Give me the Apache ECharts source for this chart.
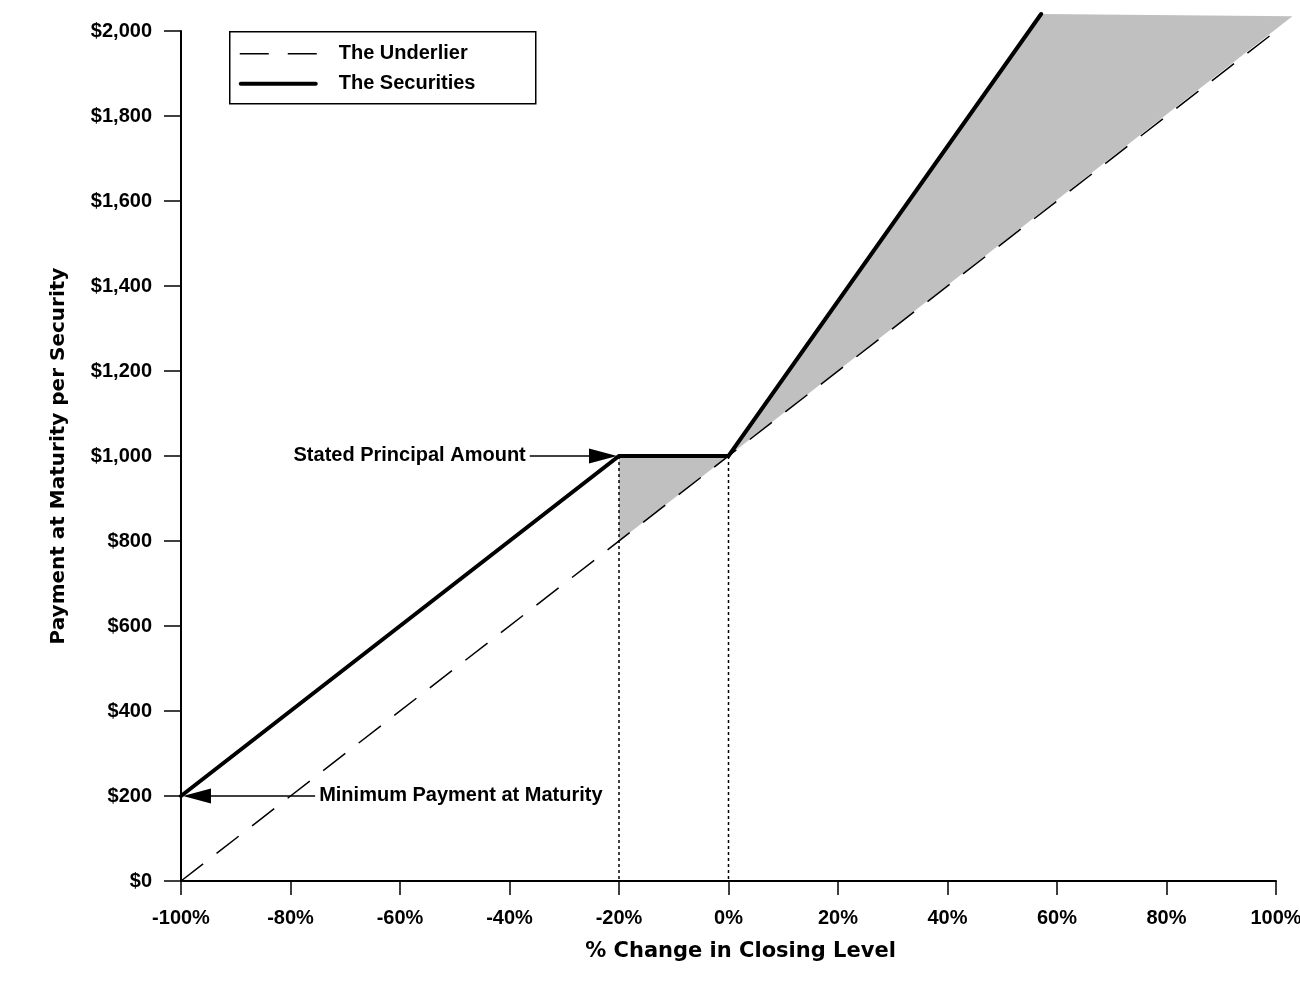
<!DOCTYPE html>
<html><head><meta charset="utf-8">
<script src="https://cdn.jsdelivr.net/npm/echarts@6/dist/echarts.min.js"></script>
<style>html,body{margin:0;padding:0;background:#fff}#c{width:1300px;height:983px}</style>
</head><body><div id="c"></div><script>
// ---- data ----
const xTicks = [-100, -80, -60, -40, -20, 0, 20, 40, 60, 80, 100];
const yTicks = [0, 200, 400, 600, 800, 1000, 1200, 1400, 1600, 1800, 2000];
const underlierX = [-100, 100];
const underlierY = [0, 2000];
const securitiesX = [-100, -20, 0, 57.1];
const securitiesY = [200, 1000, 1000, 2040];
const shadeLowX = [-20, 0, -20];
const shadeLowY = [1000, 1000, 800];
const shadeHighX = [0, 57.1, 103];
const shadeHighY = [1000, 2040, 2035];
const guideX = [-20, 0];
const guideTop = [1000, 1000];
const annLabels = ['Stated Principal Amount', 'Minimum Payment at Maturity'];
const annTipX = [-20, -100];
const annTipY = [1000, 200];
const annTailX = [-36.3, -75.5];
const legendLabels = ['The Underlier', 'The Securities'];

// ---- chart ----
const FONT = '"Liberation Sans", Arial, sans-serif';
const NAMEFONT = '"DejaVu Sans", Verdana, sans-serif';
const shades = [{x: shadeLowX, y: shadeLowY}, {x: shadeHighX, y: shadeHighY}];
const chart = echarts.init(document.getElementById('c'), null, {renderer: 'canvas'});
const txt = {fontFamily: FONT, fontWeight: 'bold', fontSize: 20, color: '#000'};

const legendGraphic = {
  type: 'group', left: 229, top: 31, z: 100,
  children: [
    {type: 'rect', shape: {x: 0, y: 0, width: 306, height: 72},
      style: {fill: '#fff', stroke: '#000', lineWidth: 1.5}},
    {type: 'line', shape: {x1: 10, y1: 22, x2: 87, y2: 22},
      style: {stroke: '#000', lineWidth: 1.5, lineDash: [29, 19]}},
    {type: 'line', shape: {x1: 11, y1: 52, x2: 86, y2: 52},
      style: {stroke: '#000', lineWidth: 4, lineCap: 'round'}},
    {type: 'text', x: 109, y: 22, style: {text: legendLabels[0], fill: '#000',
      font: 'bold 20px ' + FONT, verticalAlign: 'middle'}},
    {type: 'text', x: 109, y: 52, style: {text: legendLabels[1], fill: '#000',
      font: 'bold 20px ' + FONT, verticalAlign: 'middle'}}
  ]
};

chart.setOption({
  animation: false,
  backgroundColor: '#fff',
  grid: {left: 181, right: 24, top: 31, bottom: 102, containLabel: false, outerBoundsMode: 'none'},
  graphic: [legendGraphic],
  xAxis: {
    type: 'value', min: xTicks[0], max: xTicks[xTicks.length - 1], interval: 20,
    name: '% Change in Closing Level', nameLocation: 'middle', nameGap: 60,
    nameTextStyle: {fontFamily: NAMEFONT, fontWeight: 'bold', fontSize: 21, color: '#000', padding: [0, 0, 0, 24]},
    axisLine: {show: true, onZero: false, lineStyle: {color: '#000', width: 2}},
    axisTick: {show: true, length: 14, lineStyle: {color: '#000', width: 1.5}},
    axisLabel: Object.assign({}, txt, {margin: 27, formatter: v => v + '%'}),
    splitLine: {show: false}
  },
  yAxis: {
    type: 'value', min: yTicks[0], max: yTicks[yTicks.length - 1], interval: 200,
    name: 'Payment at Maturity per Security', nameLocation: 'middle', nameGap: 112,
    nameRotate: 90,
    nameTextStyle: {fontFamily: NAMEFONT, fontWeight: 'bold', fontSize: 20, color: '#000'},
    axisLine: {show: true, onZero: false, lineStyle: {color: '#000', width: 2}},
    axisTick: {show: true, length: 17, lineStyle: {color: '#000', width: 1.5}},
    axisLabel: Object.assign({}, txt, {margin: 29, formatter: v => '$' + v.toLocaleString('en-US')}),
    splitLine: {show: false}
  },
  series: [
    {
      type: 'custom', name: 'shade', z: 1, silent: true, clip: false,
      data: shades.map(s => [s.x[0], s.y[0]]),
      renderItem: (params, api) => {
        const s = shades[params.dataIndex];
        return {type: 'polygon', shape: {points: s.x.map((x, i) => api.coord([x, s.y[i]]))},
          style: {fill: '#c0c0c0'}};
      }
    },
    {
      type: 'custom', name: 'guides', z: 2, silent: true, clip: false,
      data: guideX.map((x, i) => [x, guideTop[i]]),
      renderItem: (params, api) => {
        const i = params.dataIndex;
        const p1 = api.coord([guideX[i], guideTop[i]]);
        const p2 = api.coord([guideX[i], 0]);
        return {type: 'line', shape: {x1: p1[0], y1: p1[1], x2: p2[0], y2: p2[1]},
          style: {stroke: '#000', lineWidth: 1.5, lineDash: [3, 3]}};
      }
    },
    {
      type: 'line', name: 'The Underlier', z: 3, clip: false, symbol: 'none', showSymbol: false,
      data: underlierX.map((x, i) => [x, underlierY[i]]),
      lineStyle: {color: '#000', width: 1.5, type: [28, 17]},
      itemStyle: {color: '#000'}
    },
    {
      type: 'line', name: 'The Securities', z: 4, clip: false, symbol: 'none', showSymbol: false,
      data: securitiesX.map((x, i) => [x, securitiesY[i]]),
      lineStyle: {color: '#000', width: 4, cap: 'round', join: 'miter'},
      itemStyle: {color: '#000'}
    },
    {
      type: 'custom', name: 'annotations', z: 5, silent: true, clip: false,
      data: annTipX.map((x, i) => [x, annTipY[i]]),
      renderItem: (params, api) => {
        const i = params.dataIndex;
        const tip = api.coord([annTipX[i], annTipY[i]]);
        const tail = api.coord([annTailX[i], annTipY[i]]);
        const dir = Math.sign(tip[0] - tail[0]);
        const tx = tip[0] - dir * 2;
        const base = tx - dir * 28;
        return {type: 'group', children: [
          {type: 'line', shape: {x1: tail[0], y1: tip[1], x2: base, y2: tip[1]},
            style: {stroke: '#000', lineWidth: 1.5}},
          {type: 'polygon', shape: {points: [[tx, tip[1]], [base, tip[1] - 7.5], [base, tip[1] + 7.5]]},
            style: {fill: '#000'}},
          {type: 'text', x: tail[0] - dir * 4, y: tip[1] - 1,
            style: {text: annLabels[i], fill: '#000', font: 'bold 20px ' + FONT,
              align: dir > 0 ? 'right' : 'left', verticalAlign: 'middle'}}
        ]};
      }
    }
  ]
});
</script></body></html>
